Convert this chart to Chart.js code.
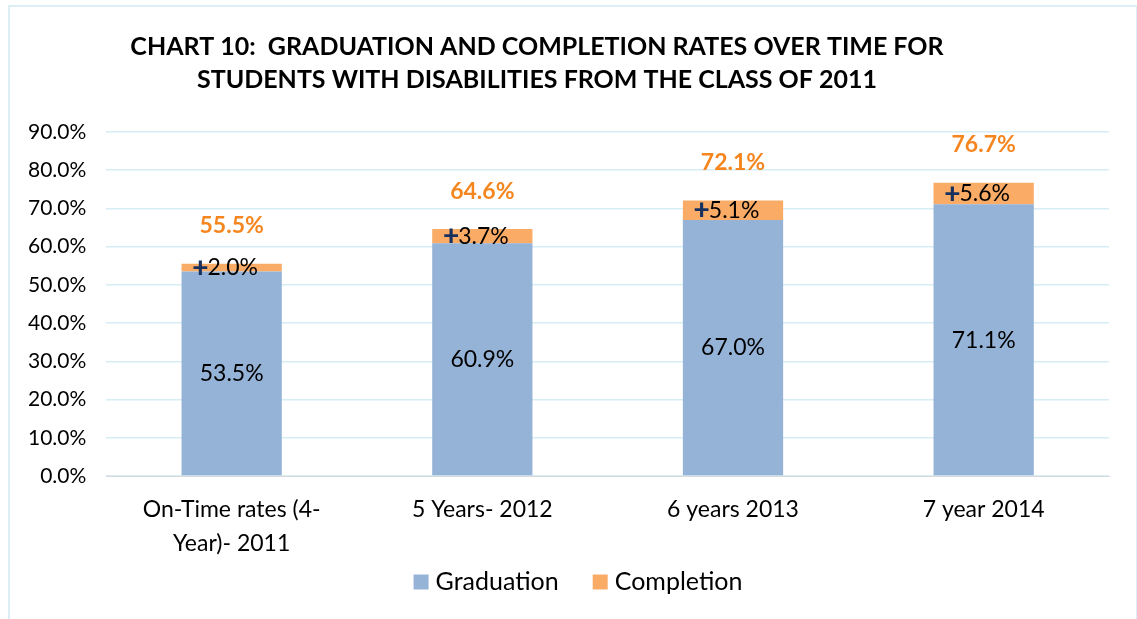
<!DOCTYPE html>
<html>
<head>
<meta charset="utf-8">
<script src="https://cdn.jsdelivr.net/npm/chart.js@4.4.1/dist/chart.umd.min.js"></script>
<style>
  body { margin: 0; background: #fff; }
  #wrap { position: relative; width: 1137px; height: 619px; overflow: hidden; }
  #frame { position: absolute; left: 8px; top: 5px; width: 1126px; height: 700px; border: 2px solid #DCEFF7; }
  canvas { position: absolute; left: 0; top: 0; }
</style>
</head>
<body>
<div id="wrap">
  <div id="frame"></div>
  <canvas id="chart" width="1137" height="619"></canvas>
</div>
<script>
const categories = [['On-Time rates (4-', 'Year)- 2011'], '5 Years- 2012', '6 years 2013', '7 year 2014'];
const graduation = [53.5, 60.9, 67.0, 71.1];
const completion = [2.0, 3.7, 5.1, 5.6];
const totals = [55.5, 64.6, 72.1, 76.7];
const titleLines = ['CHART 10:  GRADUATION AND COMPLETION RATES OVER TIME FOR', 'STUDENTS WITH DISABILITIES FROM THE CLASS OF 2011'];

const FONT = 'Lato, "Open Sans", sans-serif';

// title, segment labels, totals and legend
const labelPlugin = {
    id: 'labels',
    afterDatasetsDraw(chart) {
        const ctx = chart.ctx;
        ctx.save();
        ctx.textBaseline = 'middle';
        ctx.textAlign = 'center';

        ctx.font = 'bold 25px ' + FONT;
        ctx.fillStyle = '#000';
        ctx.fillText(titleLines[0], 537, 47);
        ctx.fillText(titleLines[1], 537, 80);

        const gMeta = chart.getDatasetMeta(0);
        const cMeta = chart.getDatasetMeta(1);
        const y = chart.scales.y;
        gMeta.data.forEach((bar, i) => {
            ctx.font = '23px ' + FONT;
            ctx.fillStyle = '#000';
            ctx.textAlign = 'center';
            ctx.fillText(graduation[i].toFixed(1) + '%', bar.x, y.getPixelForValue(graduation[i] / 2));

            // "+x.x%" label on completion segment
            const cy = y.getPixelForValue(graduation[i] + completion[i] / 2);
            const txt = completion[i].toFixed(1) + '%';
            ctx.font = '900 28px ' + FONT;
            const pw = ctx.measureText('+').width;
            ctx.font = '23px ' + FONT;
            const tw = ctx.measureText(txt).width;
            const x0 = cMeta.data[i].x - 6 - (pw + tw) / 2;
            ctx.textAlign = 'left';
            ctx.font = '900 28px ' + FONT;
            ctx.fillStyle = '#17305E';
            ctx.fillText('+', x0, cy);
            ctx.font = '23px ' + FONT;
            ctx.fillStyle = '#000';
            ctx.fillText(txt, x0 + pw - 1, cy);

            ctx.textAlign = 'center';
            ctx.font = 'bold 23px ' + FONT;
            ctx.fillStyle = '#F5861F';
            ctx.fillText(totals[i].toFixed(1) + '%', bar.x, y.getPixelForValue(totals[i]) - 38);
        });

        // legend
        ctx.font = '25px ' + FONT;
        ctx.textAlign = 'left';
        const items = chart.data.datasets;
        const box = 15, gap = 7, spacing = 34;
        let total = 0;
        items.forEach((d, i) => {
            total += box + gap + ctx.measureText(d.label).width + (i ? spacing : 0);
        });
        let lx = 578 - total / 2;
        const ly = 582;
        items.forEach(d => {
            ctx.fillStyle = d.backgroundColor;
            ctx.fillRect(lx, ly - box / 2, box, box);
            ctx.fillStyle = '#000';
            ctx.fillText(d.label, lx + box + gap, ly);
            lx += box + gap + ctx.measureText(d.label).width + spacing;
        });
        ctx.restore();
    }
};

new Chart(document.getElementById('chart').getContext('2d'), {
    type: 'bar',
    data: {
        labels: categories,
        datasets: [
            { label: 'Graduation', data: graduation, backgroundColor: '#95B3D7', barPercentage: 0.4, categoryPercentage: 1 },
            { label: 'Completion', data: completion, backgroundColor: '#FAAB66', barPercentage: 0.4, categoryPercentage: 1 }
        ]
    },
    options: {
        responsive: false,
        animation: false,
        layout: { padding: { top: 132, left: 8, right: 28, bottom: 50 } },
        plugins: {
            title: { display: false },
            tooltip: { enabled: false },
            legend: { display: false }
        },
        scales: {
            x: {
                stacked: true,
                grid: { display: false },
                border: { color: '#D9D9D9' },
                ticks: { color: '#000', font: { family: FONT, size: 23, lineHeight: 1.5 }, maxRotation: 0, padding: 8 }
            },
            y: {
                stacked: true,
                min: 0,
                max: 90,
                border: { display: false },
                grid: { color: '#D6EDF6', lineWidth: 1.5, tickLength: 0 },
                ticks: {
                    stepSize: 10,
                    color: '#000',
                    padding: 20,
                    font: { family: FONT, size: 21 },
                    callback: v => v.toFixed(1) + '%'
                }
            }
        }
    },
    plugins: [labelPlugin]
});
</script>
</body>
</html>
